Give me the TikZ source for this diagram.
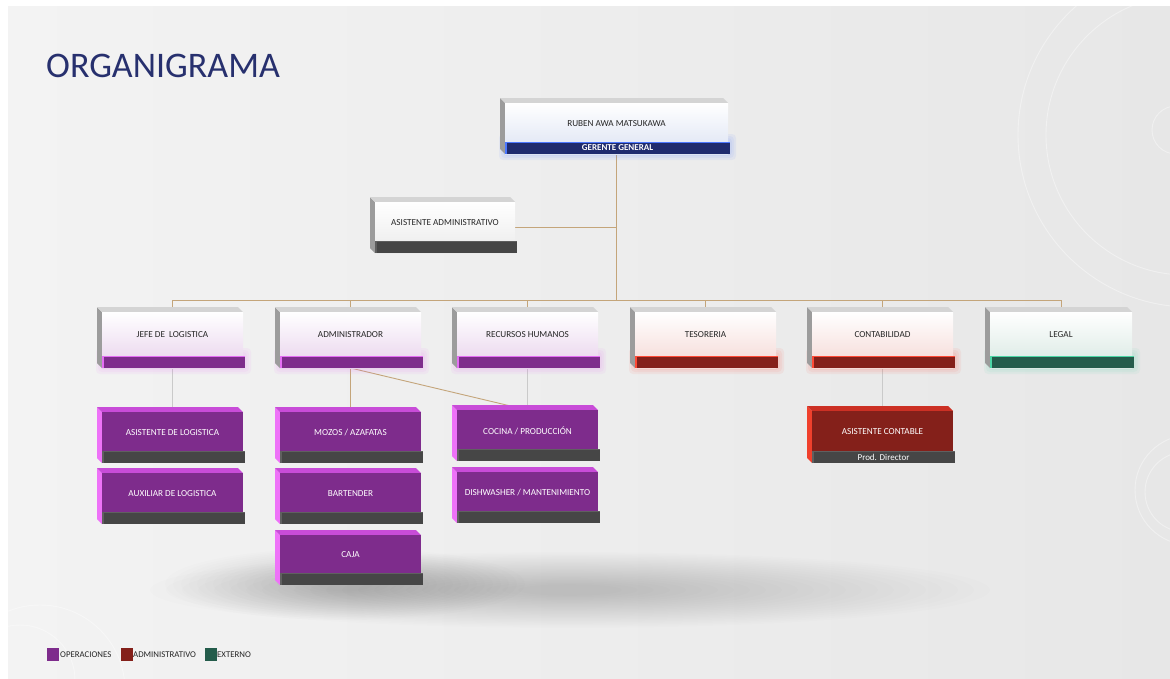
\documentclass[tikz,border=0pt]{standalone}
\usepackage{fontspec}
\setmainfont{Carlito}
\usetikzlibrary{calc}
\pgfdeclarelayer{bg}
\pgfdeclarelayer{lines}
\pgfsetlayers{bg,lines,main}

% general palette
\definecolor{titleblue}{HTML}{27306E}
\definecolor{bgL}{HTML}{F3F3F3}
\definecolor{bgR}{HTML}{E7E7E7}
\definecolor{linktan}{HTML}{C4A57A}
\definecolor{linkgray}{HTML}{CACACA}
\definecolor{opPurple}{HTML}{7E2C8C}
\definecolor{adRed}{HTML}{84201A}
\definecolor{exGreen}{HTML}{245C4B}
\definecolor{boxSide}{HTML}{9C9C9C}
\definecolor{boxTop}{HTML}{D4D4D4}
\definecolor{boxText}{HTML}{262626}

% white boxes: wb navy band, wp purple band, wr red band, wg green band, wd grey band
\newcommand\whitefamily[1]{%
  \colorlet{#1Side}{boxSide}\colorlet{#1Top}{boxTop}\colorlet{#1Text}{boxText}}
\whitefamily{wb}\whitefamily{wp}\whitefamily{wr}\whitefamily{wg}\whitefamily{wd}
\definecolor{wbTint}{HTML}{DCE3F3}\definecolor{wbBand}{HTML}{1F2B6E}\definecolor{wbEdge}{HTML}{4C78FF}
\definecolor{wpTint}{HTML}{E8D2EC}\definecolor{wpBand}{HTML}{7E2C8C}\definecolor{wpEdge}{HTML}{E46EF4}
\definecolor{wrTint}{HTML}{F5D8D5}\definecolor{wrBand}{HTML}{84201A}\definecolor{wrEdge}{HTML}{FF4A36}
\definecolor{wgTint}{HTML}{D8E8E2}\definecolor{wgBand}{HTML}{245C4B}\definecolor{wgEdge}{HTML}{4CD6A6}
\definecolor{wdTint}{HTML}{EBEBEB}\definecolor{wdBand}{HTML}{464646}\definecolor{wdEdge}{HTML}{5E5E5E}
% coloured boxes: pp purple, rr red
\definecolor{ppSide}{HTML}{EE72F8}\definecolor{ppTop}{HTML}{C84CD8}\definecolor{ppFront}{HTML}{7E2C8C}
\definecolor{ppBand}{HTML}{464646}\definecolor{ppEdge}{HTML}{606060}\definecolor{ppText}{HTML}{FFFFFF}
\definecolor{rrSide}{HTML}{F0402C}\definecolor{rrTop}{HTML}{CC3024}\definecolor{rrFront}{HTML}{84201A}
\definecolor{rrBand}{HTML}{464646}\definecolor{rrEdge}{HTML}{606060}\definecolor{rrText}{HTML}{FFFFFF}

\tikzset{
  frontbox/.style={inner sep=0pt, outer sep=0pt, draw=none},
  frontwb/.style={top color=white, middle color=white, bottom color=wbTint},
  frontwp/.style={top color=white, middle color=white, bottom color=wpTint},
  frontwr/.style={top color=white, middle color=white, bottom color=wrTint},
  frontwg/.style={top color=white, middle color=white, bottom color=wgTint},
  frontwd/.style={top color=white, bottom color=wdTint},
  frontpp/.style={fill=ppFront},
  frontrr/.style={fill=rrFront},
  glowwb/.style={fill=wbEdge, fill opacity=0.07},
  glowwp/.style={fill=wpEdge, fill opacity=0.07},
  glowwr/.style={fill=wrEdge, fill opacity=0.07},
  glowwg/.style={fill=wgEdge, fill opacity=0.07},
  glowwd/.style={fill=none},
  glowpp/.style={fill=none},
  glowrr/.style={fill=none},
  boxtext/.style={inner sep=0pt, font=\fontsize{9.2}{10}\selectfont},
  bandtext/.style={inner sep=0pt, text=white, font=\fontsize{9}{10}\selectfont},
  link/.style={draw=linktan, line width=0.9pt},
  linkg/.style={draw=linkgray, line width=0.9pt},
  ring/.style={draw=white, line width=0.9pt, opacity=0.4},
  legsq/.style={minimum width=12pt, minimum height=13pt, inner sep=0pt, draw=none},
  legtext/.style={inner sep=0pt, anchor=west, text=black!85, font=\fontsize{8.8}{10}\selectfont},
}

% extruded org-chart box
% #1 band text, #2 name, #3 x, #4 y (front top-left), #5 width, #6 height, #7 family, #8 label
\newcommand\orgbox[8][]{%
  \foreach \g in {6,4,2}{%
    \path[glow#7, rounded corners=4] ({#3-\g},{#4+#6-14-\g}) rectangle ({#3+#5+2+\g},{#4+#6+\g});}
  \fill[#7Side] (#3,#4) -- ++(-5,-5) -- ++(0,#6) -- (#3,{#4+#6}) -- cycle;
  \fill[#7Top] (#3,#4) -- ++(-5,-5) -- ++(#5,0) -- ({#3+#5},#4) -- cycle;
  \node[front#7, frontbox, minimum width=#5, minimum height=#6, anchor=north west] (#2) at (#3,#4) {};
  \fill[#7Band] ({#3+0.5},{#4+#6-12}) rectangle ({#3+#5+2},{#4+#6});
  \fill[#7Edge] ({#3-0.5},{#4+#6-12}) rectangle ({#3+1.5},{#4+#6});
  \draw[#7Edge, line width=0.7pt] ({#3+0.5},{#4+#6-11.6}) -- ({#3+#5+2},{#4+#6-11.6});
  \node[boxtext, text=#7Text] (#2-t) at ({#3+#5/2},{#4+(#6-12)/2+1}) {#8};
  \ifx\relax#1\relax\else
    \node[bandtext] (#2-b) at ({#3+#5/2+1},{#4+#6-6}) {#1};
  \fi
}

\begin{document}
\begin{tikzpicture}[x=1pt, y=-1pt]
\useasboundingbox (0,0) rectangle (1170,678);

% slide background, decorative rings and floor shadow
\begin{pgfonlayer}{bg}
  \fill[white] (0,0) rectangle (1170,678);
  \shade[left color=bgL, right color=bgR] (8,6) rectangle (1170,678);
  \begin{scope}
    \clip (8,6) rectangle (1170,678);
    \draw[ring] (1190,135) circle [radius=172];
    \draw[ring] (1186,135) circle [radius=140];
    \draw[ring] (1176,130) circle [radius=24];
    \draw[ring] (1190,490) circle [radius=55];
    \draw[ring] (1185,492) circle [radius=40];
    \draw[ring] (40,690) circle [radius=85];
    \draw[ring] (20,680) circle [radius=55];
    % long soft shadow on the floor
    \foreach \k in {0,...,23}
      \fill[black, opacity=0.006] (570,590) ellipse [x radius={420-16*\k}, y radius={38-1.4*\k}];
    % darker pool under the lowest box
    \foreach \k in {0,...,19}
      \fill[black, opacity=0.009] (345,584) ellipse [x radius={180-8*\k}, y radius={36-1.5*\k}];
  \end{scope}
\end{pgfonlayer}

% title
\node[anchor=base west, inner sep=0pt, text=titleblue, font=\fontsize{36}{40}\selectfont] (title) at (46,77) {ORGANIGRAMA};

% level 0 and assistant
\orgbox[\bfseries GERENTE GENERAL]{gg}{505}{103}{223}{51}{wb}{RUBEN AWA MATSUKAWA}
\orgbox{asad}{375}{202}{140}{51}{wd}{ASISTENTE ADMINISTRATIVO}

% level 1
\orgbox{jefe}{102}{312}{141}{56}{wp}{JEFE DE\ \ LOGISTICA}
\orgbox{admin}{280}{312}{141}{56}{wp}{ADMINISTRADOR}
\orgbox{rrhh}{457}{312}{141}{56}{wp}{RECURSOS HUMANOS}
\orgbox{teso}{635}{312}{141}{56}{wr}{TESORERIA}
\orgbox{cont}{812}{312}{141}{56}{wr}{CONTABILIDAD}
\orgbox{legal}{990}{312}{142}{56}{wg}{LEGAL}

% level 2
\orgbox{aslog}{102}{412}{141}{51}{pp}{ASISTENTE DE LOGISTICA}
\orgbox{auxlog}{102}{473}{141}{51}{pp}{AUXILIAR DE LOGISTICA}
\orgbox{mozos}{280}{412}{141}{51}{pp}{MOZOS / AZAFATAS}
\orgbox{bart}{280}{473}{141}{51}{pp}{BARTENDER}
\orgbox{caja}{280}{535}{141}{50}{pp}{CAJA}
\orgbox{cocina}{457}{410}{141}{51}{pp}{COCINA / PRODUCCIÓN}
\orgbox{dish}{457}{472}{141}{51}{pp}{DISHWASHER / MANTENIMIENTO}
\orgbox[Prod. Director]{ascont}{812}{411}{141}{52}{rr}{ASISTENTE CONTABLE}

% connectors, kept behind the boxes
\begin{pgfonlayer}{lines}
  \coordinate (bus) at (gg.south |- 0,300);
  \draw[link] (gg.south) -- (bus);
  \draw[link] (asad.east) -- (asad.east -| gg.south);
  \foreach \n in {jefe,admin,rrhh,teso,cont,legal}
    \draw[link] (bus) -| (\n.north);
  \draw[linkg] (jefe.south) -- (aslog.north);
  \draw[link] (admin.south) -- (mozos.north);
  \draw[link] (admin.south) -- (cocina.north);
  \draw[linkg] (rrhh.south) -- (cocina.north);
  \draw[linkg] (cont.south) -- (ascont.north);
\end{pgfonlayer}

% legend
\node[legsq, fill=opPurple] (lg1) at (52.5,654.5) {};
\node[legtext] (lg1t) at (60,655) {OPERACIONES};
\node[legsq, fill=adRed] (lg2) at (126.5,654.5) {};
\node[legtext] (lg2t) at (133,655) {ADMINISTRATIVO};
\node[legsq, fill=exGreen] (lg3) at (210.5,654.5) {};
\node[legtext] (lg3t) at (217,655) {EXTERNO};
\end{tikzpicture}
\end{document}
